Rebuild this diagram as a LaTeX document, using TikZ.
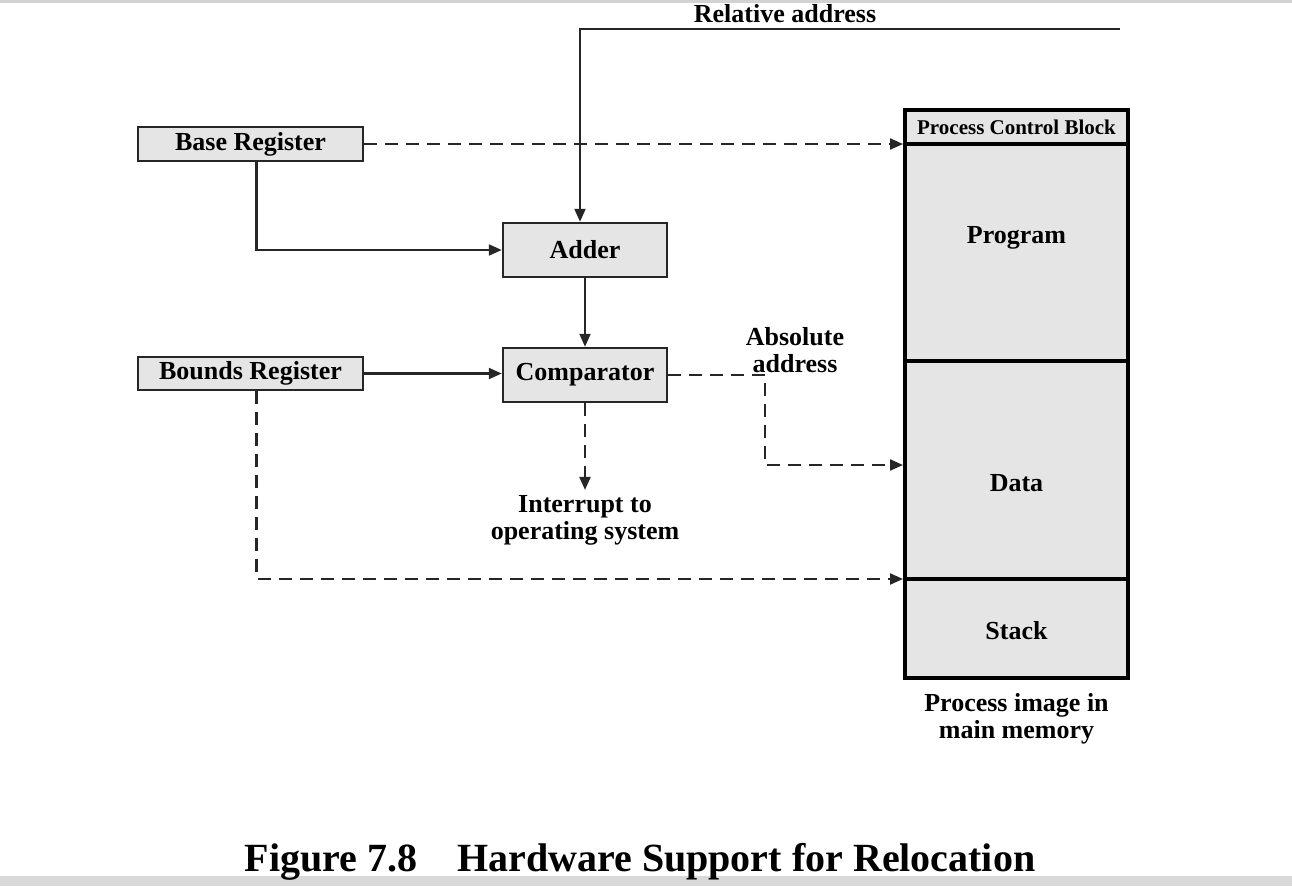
\documentclass[tikz,border=0pt]{standalone}
\usepackage{fontspec}
\setmainfont{Liberation Serif}
\usetikzlibrary{arrows.meta,positioning}

\tikzset{
    regbox/.style={
        rectangle,
        draw=black!85,
        line width=2.5pt,
        fill=gray!20,
        inner sep=0pt,
        font=\fontsize{26}{27}\selectfont\bfseries},
    membox/.style={
        rectangle,
        draw=black,
        line width=4pt,
        fill=gray!20,
        inner sep=0pt,
        minimum width=223pt},
    memtext/.style={
        inner sep=0pt,
        font=\fontsize{26}{27}\selectfont\bfseries},
    note/.style={
        align=center,
        inner sep=0pt,
        font=\fontsize{26}{27}\selectfont\bfseries},
    conn/.style={
        draw=black!85,
        line width=2.2pt,
        -{Triangle[length=13pt,width=11pt]}},
    dconn/.style={
        conn,
        dash pattern=on 13pt off 8pt}
}

\begin{document}
\begin{tikzpicture}[x=1pt, y=-1pt]
    \useasboundingbox (0,0) rectangle (1292,886);
    \fill[gray!35] (0,0) rectangle (1292,3);
    \fill[gray!30] (0,876) rectangle (1292,886);

    % registers and units
    \node[regbox, minimum width=225pt, minimum height=34pt]
        (base) at (250.5,144) {Base Register};
    \node[regbox, minimum width=225pt, minimum height=33pt]
        (bounds) at (250.5,373.5) {Bounds Register};
    \node[regbox, minimum width=164pt, minimum height=54pt]
        (adder) at (585,250) {Adder};
    \node[regbox, minimum width=164pt, minimum height=54pt]
        (comp) at (585,375) {Comparator};

    % process image
    \node[
        membox,
        minimum height=34pt,
        font=\fontsize{21}{22}\selectfont\bfseries]
        (pcb) at (1016.5,127) {Process Control Block};
    \node[membox, minimum height=217pt,
        label={[memtext, yshift=15pt]center:Program}]
        (prog) at (1016.5,252.5) {};
    \node[membox, minimum height=218pt,
        label={[memtext, yshift=-13pt]center:Data}]
        (data) at (1016.5,470) {};
    \node[membox, minimum height=99pt,
        label={[memtext, yshift=-2pt]center:Stack}]
        (stack) at (1016.5,628.5) {};

    % texts
    \coordinate (relin) at (1120,29);
    \node[note] (reltext) at (785,14) {Relative address};
    \node[note] (abstext) at (795,350) {Absolute\\address};
    \node[note] (intr) at (585,520) {Interrupt to\\operating system};
    \node[note, below=13pt of stack] (imgtext) {Process image in\\main memory};
    \node[
        inner sep=0pt,
        font=\fontsize{40}{44}\selectfont\bfseries]
        (caption) at (640,862) {Figure 7.8\quad Hardware Support for Relocation};

    % connectors
    \draw[conn] (relin) -| ([xshift=-5pt]adder.north);
    \draw[conn] ([xshift=6pt]base.south) |- (adder.west);
    \draw[conn] (adder.south) -- (comp.north);
    \draw[conn] (bounds.east) -- (bounds.east -| comp.west);
    \draw[dconn] (base.east) -- (base.east -| pcb.west);
    \draw[dconn] (comp.east) -- ++(97,0) |- ([yshift=5pt]data.west);
    \draw[dconn] (comp.south) -- ([yshift=5pt]intr.north);
    \draw[dconn] ([xshift=6pt]bounds.south) |- ([yshift=-2pt]stack.north west);
\end{tikzpicture}
\end{document}
